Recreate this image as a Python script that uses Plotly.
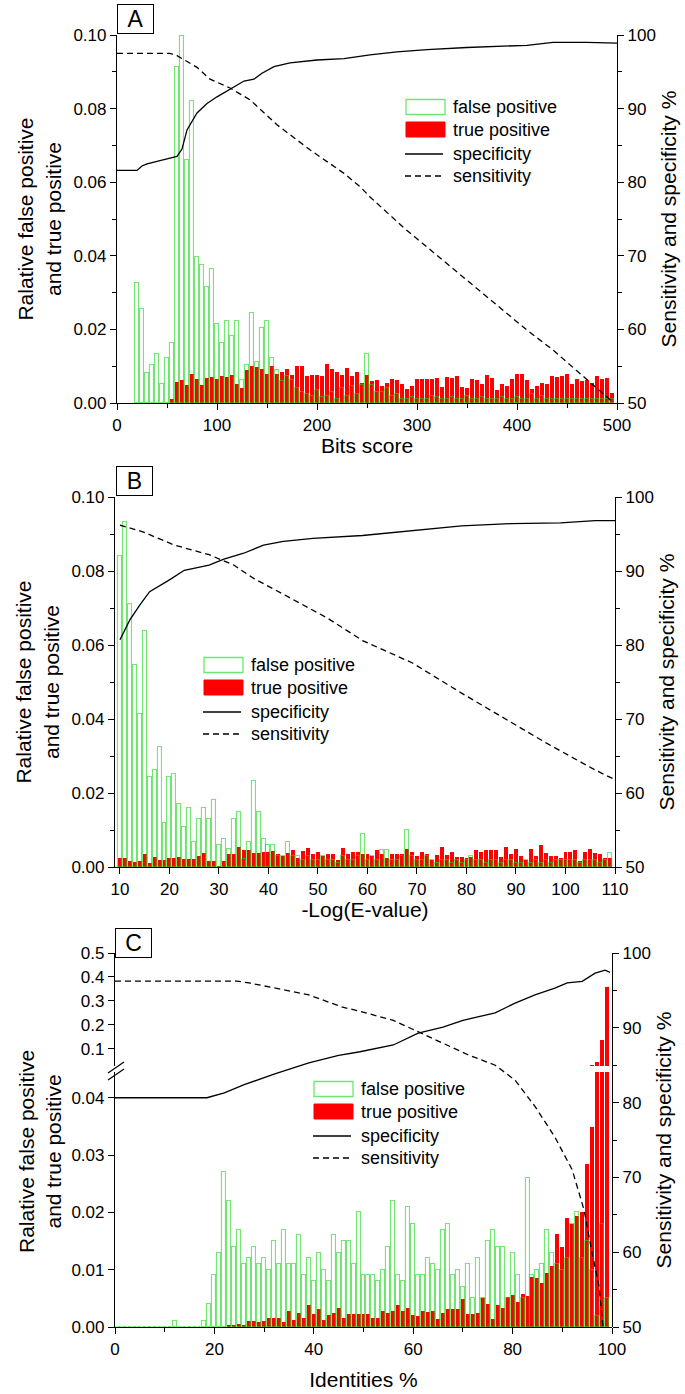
import plotly.graph_objects as go

W, H = 685, 1394
FONT = "Liberation Sans, Arial, sans-serif"

# ---------------- Panel A: Bits score ----------------
bits = list(range(20, 500, 5))
fp_a = [0.0326, 0.0255, 0.0082, 0.0103, 0.0133, 0.0051, 0.0121, 0.0162, 0.0913, 0.0998,
        0.0660, 0.0822, 0.0396, 0.0376, 0.0315, 0.0365, 0.0214, 0.0162, 0.0223, 0.0182,
        0.0223, 0.0062, 0.0102, 0.0244, 0.0112, 0.0203, 0.0223, 0.0121, 0.0091, 0.0060,
        0.0073, 0.0062, 0.0040, 0.0030, 0.0025, 0.0020, 0.0035, 0.0015, 0.0020, 0.0030,
        0.0010, 0.0040, 0.0020, 0.0045, 0.0025, 0.0050, 0.0134, 0.0050, 0.0030, 0.0030,
        0.0040, 0.0020, 0.0025, 0.0010, 0.0010, 0.0015, 0.0010, 0.0010, 0.0010, 0.0020,
        0.0015, 0.0010, 0.0010, 0.0015, 0.0010, 0.0010, 0.0020, 0.0010, 0.0010, 0.0015,
        0.0010, 0.0010, 0.0010, 0.0015, 0.0010, 0.0010, 0.0015, 0.0010, 0.0010, 0.0025,
        0.0010, 0.0020, 0.0010, 0.0010, 0.0010, 0.0010, 0.0010, 0.0010, 0.0010, 0.0010,
        0.0010, 0.0010, 0.0010, 0.0010, 0.0010, 0.0010]
tp_a = [0.0, 0.0, 0.0, 0.0, 0.0, 0.0, 0.0, 0.0010, 0.0057, 0.0062,
        0.0048, 0.0080, 0.0066, 0.0048, 0.0068, 0.0071, 0.0065, 0.0073, 0.0071, 0.0077,
        0.0053, 0.0041, 0.0089, 0.0101, 0.0098, 0.0092, 0.0080, 0.0101, 0.0080, 0.0085,
        0.0092, 0.0076, 0.0100, 0.0100, 0.0074, 0.0077, 0.0077, 0.0073, 0.0105, 0.0092,
        0.0085, 0.0077, 0.0094, 0.0073, 0.0085, 0.0054, 0.0075, 0.0059, 0.0062, 0.0045,
        0.0054, 0.0066, 0.0062, 0.0051, 0.0039, 0.0045, 0.0064, 0.0066, 0.0066, 0.0066,
        0.0069, 0.0044, 0.0071, 0.0069, 0.0073, 0.0044, 0.0042, 0.0064, 0.0062, 0.0053,
        0.0075, 0.0069, 0.0034, 0.0053, 0.0045, 0.0066, 0.0080, 0.0078, 0.0062, 0.0039,
        0.0045, 0.0054, 0.0053, 0.0073, 0.0071, 0.0073, 0.0078, 0.0051, 0.0066, 0.0060,
        0.0062, 0.0054, 0.0073, 0.0064, 0.0069, 0.0027]
spec_a_x = [0, 20, 25, 30, 45, 60, 65, 70, 80, 90, 100, 110, 120, 127, 137, 145, 157, 173,
            200, 227, 253, 280, 310, 350, 410, 436, 470, 500]
spec_a_y = [81.6, 81.6, 82.2, 82.5, 83.0, 83.5, 84.5, 87.1, 89.4, 90.7, 91.6, 92.4, 93.3, 93.75,
            94.0, 94.8, 95.7, 96.2, 96.6, 96.8, 97.3, 97.7, 98.0, 98.3, 98.6, 99.0, 99.0, 98.9]
sens_a_x = [0, 53, 60, 65, 80, 93, 113, 133, 160, 193, 227, 243, 253, 286, 310, 350, 386, 410,
            436, 470, 496]
sens_a_y = [97.5, 97.5, 97.2, 96.8, 95.6, 94.0, 92.8, 91.2, 87.8, 84.4, 81.2, 79.4, 78.0, 73.9,
            71.2, 66.7, 62.6, 59.9, 57.2, 53.1, 50.1]

# ---------------- Panel B: -Log(E-value) ----------------
logE = list(range(10, 110))
fp_b = [0.0840, 0.0933, 0.0710, 0.0546, 0.0414, 0.0637, 0.0242, 0.0262, 0.0323, 0.0119,
        0.0242, 0.0251, 0.0170, 0.0109, 0.0160, 0.0068, 0.0129, 0.0160, 0.0129, 0.0180,
        0.0059, 0.0077, 0.0049, 0.0129, 0.0150, 0.0022, 0.0068, 0.0232, 0.0150, 0.0077,
        0.0059, 0.0059, 0.0030, 0.0030, 0.0068, 0.0030, 0.0030, 0.0020, 0.0030, 0.0020,
        0.0020, 0.0030, 0.0020, 0.0020, 0.0010, 0.0030, 0.0020, 0.0020, 0.0030, 0.0090,
        0.0020, 0.0030, 0.0020, 0.0047, 0.0047, 0.0020, 0.0020, 0.0030, 0.0099, 0.0030,
        0.0020, 0.0020, 0.0030, 0.0020, 0.0010, 0.0020, 0.0020, 0.0010, 0.0020, 0.0010,
        0.0020, 0.0030, 0.0020, 0.0020, 0.0010, 0.0020, 0.0020, 0.0010, 0.0020, 0.0020,
        0.0010, 0.0010, 0.0020, 0.0010, 0.0020, 0.0010, 0.0020, 0.0010, 0.0020, 0.0020,
        0.0020, 0.0020, 0.0020, 0.0010, 0.0020, 0.0020, 0.0020, 0.0010, 0.0020, 0.0038]
tp_b = [0.0023, 0.0023, 0.0017, 0.0014, 0.0017, 0.0036, 0.0011, 0.0026, 0.0020, 0.0020,
        0.0025, 0.0023, 0.0027, 0.0022, 0.0022, 0.0022, 0.0031, 0.0038, 0.0017, 0.0017,
        0.0002, 0.0017, 0.0034, 0.0036, 0.0055, 0.0047, 0.0045, 0.0038, 0.0038, 0.0041,
        0.0041, 0.0043, 0.0036, 0.0031, 0.0038, 0.0047, 0.0025, 0.0043, 0.0052, 0.0036,
        0.0040, 0.0029, 0.0036, 0.0036, 0.0020, 0.0052, 0.0036, 0.0040, 0.0040, 0.0036,
        0.0035, 0.0029, 0.0045, 0.0034, 0.0025, 0.0034, 0.0034, 0.0036, 0.0049, 0.0041,
        0.0031, 0.0041, 0.0036, 0.0020, 0.0032, 0.0055, 0.0032, 0.0041, 0.0026, 0.0026,
        0.0023, 0.0026, 0.0045, 0.0040, 0.0047, 0.0045, 0.0045, 0.0026, 0.0055, 0.0035,
        0.0050, 0.0031, 0.0020, 0.0050, 0.0031, 0.0059, 0.0038, 0.0029, 0.0031, 0.0023,
        0.0040, 0.0040, 0.0045, 0.0017, 0.0040, 0.0050, 0.0038, 0.0035, 0.0023, 0.0023]
spec_b_x = [10, 12, 14, 16, 20, 23, 28, 31, 35, 39, 43, 49, 59, 69, 79, 89, 99, 106, 110]
spec_b_y = [80.7, 83.4, 85.4, 87.2, 88.8, 90.1, 90.8, 91.6, 92.4, 93.5, 94.0, 94.4, 94.8, 95.5,
            96.1, 96.4, 96.5, 96.8, 96.8]
sens_b_x = [10, 14.6, 21, 28, 33, 37, 44, 52, 59, 69, 79, 87, 96, 106, 110]
sens_b_y = [96.2, 95.3, 93.5, 92.2, 90.8, 89.0, 86.5, 83.6, 80.6, 77.6, 73.5, 70.3, 66.8, 63.1, 61.8]

# ---------------- Panel C: Identities % ----------------
ident = list(range(0, 100))
fp_c = [0, 0, 0, 0, 0, 0, 0, 0, 0, 0,
        0, 0, 0.001, 0, 0, 0, 0, 0, 0.001, 0.004,
        0.009, 0.013, 0.027, 0.022, 0.014, 0.017, 0.011, 0.012, 0.014, 0.011,
        0.012, 0.010, 0.015, 0.011, 0.017, 0.011, 0.011, 0.016, 0.009, 0.012,
        0.008, 0.013, 0.010, 0.008, 0.016, 0.013, 0.015, 0.015, 0.011, 0.020,
        0.009, 0.009, 0.009, 0.008, 0.010, 0.014, 0.022, 0.009, 0.008, 0.021,
        0.018, 0.009, 0.009, 0.012, 0.011, 0.010, 0.017, 0.018, 0.009, 0.010,
        0.007, 0.011, 0.005, 0.012, 0.005, 0.015, 0.017, 0.014, 0.014, 0.005,
        0.013, 0.009, 0.005, 0.026, 0.009, 0.010, 0.011, 0.017, 0.013, 0.011,
        0.010, 0.012, 0.018, 0.020, 0.012, 0.015, 0.010, 0.002, 0.018, 0.005]
tp_c = [0, 0, 0, 0, 0, 0, 0, 0, 0, 0,
        0, 0, 0, 0, 0, 0, 0, 0, 0, 0,
        0, 0, 0, 0.0004, 0.0003, 0.0005, 0.0003, 0.0010, 0.0010, 0.0008,
        0.0010, 0.0015, 0.0015, 0.0016, 0.0008, 0.0028, 0.0012, 0.0025, 0.0016, 0.0039,
        0.0022, 0.0032, 0.0013, 0.0021, 0.0024, 0.0034, 0.0016, 0.0022, 0.0022, 0.0022,
        0.0022, 0.0022, 0.0015, 0.0016, 0.0028, 0.0025, 0.0028, 0.0038, 0.0028, 0.0034,
        0.0021, 0.0019, 0.0028, 0.0026, 0.0028, 0.0014, 0.0025, 0.0032, 0.0032, 0.0032,
        0.0048, 0.0022, 0.0022, 0.0024, 0.0050, 0.0041, 0.0014, 0.0038, 0.0034, 0.0053,
        0.0055, 0.0043, 0.0057, 0.0054, 0.0088, 0.0085, 0.0076, 0.0095, 0.0107, 0.0163,
        0.0140, 0.0191, 0.0179, 0.0193, 0.0200, 0.0285, 0.0349, 0.0450, 0.1375, 0.3600]
spec_c_x = [0, 18.5, 22, 26, 32, 39, 45, 49.3, 56, 61, 66, 70, 76.5, 80.5, 84.5, 88.5, 91, 94,
            96.6, 98.6, 99.6]
spec_c_y = [80.65, 80.65, 81.3, 82.4, 83.8, 85.3, 86.3, 86.8, 87.7, 89.3, 90.1, 91.0, 92.0, 93.3,
            94.4, 95.3, 96.0, 96.2, 97.3, 97.7, 97.4]
sens_c_x = [0, 24.5, 27, 32, 39, 45.6, 49.3, 56, 61, 66, 71, 76.5, 80.5, 84.5, 88.5, 92, 94.4,
            96, 97.4, 98.2]
sens_c_y = [96.25, 96.25, 96.0, 95.3, 94.4, 92.8, 92.2, 91.0, 89.5, 88.0, 86.4, 85.0, 83.0, 79.5,
            75.4, 71.0, 65.6, 59.9, 55.4, 50.0]

legend_labels = ["false positive", "true positive", "specificity", "sensitivity"]

# ---------------- styling ----------------
GREEN_LINE = "rgba(20,215,20,0.6)"
GREEN_SWATCH = "#6fe66f"
RED = "#ff0000"
DASH = "6px,4px"


def px(v):
    return v / W


def py(v):
    return 1 - v / H


fig = go.Figure()


def add_panel(xs, fp, tp, width, sx, sy, nx, ny, xa, ya, yr, upper=None):
    fig.add_trace(go.Bar(x=xs, y=tp, width=width, name=legend_labels[1], showlegend=False,
                         marker=dict(color=RED, line=dict(width=0)), xaxis=xa, yaxis=ya))
    fig.add_trace(go.Bar(x=xs, y=fp, width=width, name=legend_labels[0], showlegend=False,
                         marker=dict(color="rgba(0,0,0,0)", line=dict(color=GREEN_LINE, width=1.1)),
                         xaxis=xa, yaxis=ya))
    if upper:
        fig.add_trace(go.Bar(x=xs, y=tp, width=width, name=legend_labels[1], showlegend=False,
                             marker=dict(color=RED, line=dict(width=0)), xaxis=xa, yaxis=upper))
    fig.add_trace(go.Scatter(x=sx, y=sy, mode="lines", name=legend_labels[2], showlegend=False,
                             line=dict(color="black", width=1.3), xaxis=xa, yaxis=yr))
    fig.add_trace(go.Scatter(x=nx, y=ny, mode="lines", name=legend_labels[3], showlegend=False,
                             line=dict(color="black", width=1.3, dash=DASH), xaxis=xa, yaxis=yr))


add_panel(bits, fp_a, tp_a, 4, spec_a_x, spec_a_y, sens_a_x, sens_a_y, "x", "y", "y2")
add_panel(logE, fp_b, tp_b, 0.8, spec_b_x, spec_b_y, sens_b_x, sens_b_y, "x2", "y3", "y4")
add_panel(ident, fp_c, tp_c, 0.8, spec_c_x, spec_c_y, sens_c_x, sens_c_y, "x3", "y5", "y7",
          upper="y6")

tickfont = dict(family=FONT, size=17, color="black")
titlefont = dict(family=FONT, size=21, color="black")
base = dict(showline=True, linecolor="black", linewidth=1.2, ticks="outside", ticklen=6,
            tickwidth=1.2, tickcolor="black", showgrid=False, zeroline=False, tickfont=tickfont,
            mirror=False, fixedrange=True, automargin=False)
minor = dict(ticks="outside", ticklen=4, tickwidth=1.2, tickcolor="black", showgrid=False)

left_title = "Ralative false positive<br>and true positive"
right_title = "Sensitivity and specificity %"

layout = dict(
    width=W, height=H, autosize=False, margin=dict(l=0, r=0, t=0, b=0, pad=0),
    paper_bgcolor="white", plot_bgcolor="rgba(0,0,0,0)",
    barmode="overlay", bargap=0, showlegend=False,
    font=dict(family=FONT, color="black"),
    # Panel A
    xaxis=dict(base, domain=[px(117), px(617)], range=[0, 500], dtick=100, tick0=0,
               minor=dict(minor, dtick=50), anchor="y",
               title=dict(text="Bits score", font=titlefont, standoff=1)),
    yaxis=dict(base, domain=[py(403), py(35)], range=[0, 0.1], dtick=0.02, tickformat=".2f",
               minor=dict(minor, dtick=0.01), anchor="x",
               title=dict(text=left_title, font=titlefont, standoff=6)),
    yaxis2=dict(base, overlaying="y", side="right", anchor="x", range=[50, 100], dtick=10,
                minor=dict(minor, dtick=5),
                title=dict(text=right_title, font=titlefont, standoff=6)),
    # Panel B
    xaxis2=dict(base, domain=[px(115), px(615)], range=[9, 110], dtick=10, tick0=10, anchor="y3",
                title=dict(text="-Log(E-value)", font=titlefont, standoff=1)),
    yaxis3=dict(base, domain=[py(867), py(497)], range=[0, 0.1], dtick=0.02, tickformat=".2f",
                minor=dict(minor, dtick=0.01), anchor="x2",
                title=dict(text=left_title, font=titlefont, standoff=6)),
    yaxis4=dict(base, overlaying="y3", side="right", anchor="x2", range=[50, 100], dtick=10,
                minor=dict(minor, dtick=5),
                title=dict(text=right_title, font=titlefont, standoff=6)),
    # Panel C
    xaxis3=dict(base, domain=[px(115), px(612)], range=[0, 100], dtick=20, tick0=0,
                minor=dict(minor, dtick=10), anchor="y5",
                title=dict(text="Identities %", font=titlefont, standoff=14)),
    yaxis5=dict(base, domain=[py(1327), py(1072)], range=[0, 0.0445], dtick=0.01, tick0=0,
                tickformat=".2f", anchor="x3"),
    yaxis6=dict(base, domain=[py(1066), py(953)], range=[0.029, 0.5], dtick=0.1, tick0=0,
                tickformat=".1f", anchor="x3"),
    yaxis7=dict(base, domain=[py(1327), py(953)], side="right", anchor="x3", range=[50, 100],
                dtick=10, minor=dict(minor, dtick=5),
                title=dict(text=right_title, font=titlefont, standoff=6)),
)
fig.update_layout(**layout)

# Legends (drawn as keys + text so the swatches match the wide rectangles)
legfont = dict(family=FONT, size=18, color="black")


def add_legend(x0, y0):
    # x0: left edge of swatches, y0: centre of first row (pixels)
    rows = [y0, y0 + 22.5, y0 + 47, y0 + 69]
    sw = 39
    fig.add_shape(type="rect", xref="paper", yref="paper",
                  x0=px(x0), x1=px(x0 + sw), y0=py(rows[0] + 7.5), y1=py(rows[0] - 7.5),
                  line=dict(color=GREEN_SWATCH, width=1.3), fillcolor="white")
    fig.add_shape(type="rect", xref="paper", yref="paper",
                  x0=px(x0), x1=px(x0 + sw), y0=py(rows[1] + 7.5), y1=py(rows[1] - 7.5),
                  line=dict(color=RED, width=1), fillcolor=RED)
    fig.add_shape(type="line", xref="paper", yref="paper",
                  x0=px(x0 - 1), x1=px(x0 + sw - 2), y0=py(rows[2]), y1=py(rows[2]),
                  line=dict(color="black", width=1.3))
    fig.add_shape(type="line", xref="paper", yref="paper",
                  x0=px(x0 - 1), x1=px(x0 + sw - 2), y0=py(rows[3]), y1=py(rows[3]),
                  line=dict(color="black", width=1.3, dash=DASH))
    for label, ry in zip(legend_labels, rows):
        fig.add_annotation(text=label, x=px(x0 + sw + 6), y=py(ry), xref="paper", yref="paper",
                           showarrow=False, xanchor="left", yanchor="middle", font=legfont)


add_legend(406, 107)
add_legend(204, 665)
add_legend(314, 1089)

# Panel letters
for letter, cx, cy in [("A", 135, 19), ("B", 134, 481), ("C", 133, 943)]:
    fig.add_annotation(text=letter, x=px(cx), y=py(cy), xref="paper", yref="paper",
                       showarrow=False, font=dict(family=FONT, size=23, color="black"),
                       bordercolor="black", borderwidth=1, borderpad=2, bgcolor="white",
                       width=31, height=24, align="center", valign="middle",
                       xanchor="center", yanchor="middle")

# Panel C left title (spans broken axis)
fig.add_annotation(text=left_title, x=px(40), y=py(1152), xref="paper", yref="paper",
                   showarrow=False, textangle=-90, font=titlefont,
                   xanchor="center", yanchor="middle")

# Axis break marks on panel C
for dy in (0, 7):
    fig.add_shape(type="line", xref="paper", yref="paper",
                  x0=px(108), y0=py(1073 + dy), x1=px(124), y1=py(1062 + dy),
                  line=dict(color="black", width=1.2))

fig.write_html(
    "out.html",
    config={"displayModeBar": False},
    post_script=("document.documentElement.style.margin='0';"
                 "document.documentElement.style.overflow='hidden';"
                 "document.body.style.margin='0';document.body.style.overflow='hidden';"),
)
